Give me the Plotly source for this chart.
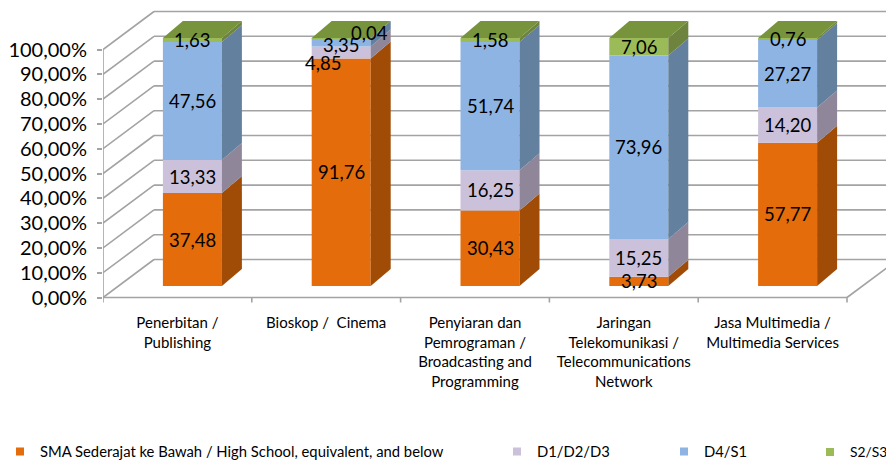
import plotly.graph_objects as go

# ---------------- data ----------------
categories = [
    "Penerbitan /<br>Publishing",
    "Bioskop /  Cinema",
    "Penyiaran dan<br>Pemrograman /<br>Broadcasting and<br>Programming",
    "Jaringan<br>Telekomunikasi /<br>Telecommunications<br>Network",
    "Jasa Multimedia /<br>Multimedia Services",
]
series_names = [
    "SMA Sederajat ke Bawah / High School, equivalent, and below",
    "D1/D2/D3",
    "D4/S1",
    "S2/S3",
]
sma = [37.48, 91.76, 30.43, 3.73, 57.77]
d1d2d3 = [13.33, 4.85, 16.25, 15.25, 14.20]
d4s1 = [47.56, 3.35, 51.74, 73.96, 27.27]
s2s3 = [1.63, 0.04, 1.58, 7.06, 0.76]
y_tick_values = [0, 10, 20, 30, 40, 50, 60, 70, 80, 90, 100]
y_tick_labels = ["0,00%", "10,00%", "20,00%", "30,00%", "40,00%", "50,00%",
                 "60,00%", "70,00%", "80,00%", "90,00%", "100,00%"]

series = [sma, d1d2d3, d4s1, s2s3]

# ---------------- style ----------------
FONT = "Lato"
FRONT = ["#E46C0A", "#CCC1DA", "#8EB4E3", "#9BBB59"]
SIDE = ["#A04C07", "#8F8799", "#63809F", "#6D833E"]
TOP_COLOR = "#77933C"
GRID = "#A3A3A3"

W, H = 894, 462
PAGE = 8                  # default page margin around the figure div
AXIS_PX = 103             # page x of the front vertical axis
PX_X = 148.8              # px per category unit
PX_Y = 2.48               # px per percent
Y0_PX = 297.5             # page row of 0 %
PLOT_BOTTOM_PX = 306      # page row of the plot area bottom

ML = AXIS_PX - PAGE
MB = H - (PLOT_BOTTOM_PX - PAGE)
plot_w = W - ML
plot_h = H - MB
X_MAX = plot_w / PX_X
Y_TOP = (Y0_PX - PAGE) / PX_Y
Y_BOT = -(PLOT_BOTTOM_PX - Y0_PX) / PX_Y

WALL_DX, WALL_DY = 51 / PX_X, 38 / PX_Y       # depth of the chart box
BAR_OX, BAR_OY = 15 / PX_X, 11.5 / PX_Y       # bar front plane offset
BAR_DX, BAR_DY = 20 / PX_X, 17 / PX_Y         # bar depth
BAR_W = 59 / PX_X

fig = go.Figure()

n = len(categories)
xc = [i + 0.5 + BAR_OX for i in range(n)]

# cumulative bases
bases = []
cum = [BAR_OY] * n
for s in series:
    bases.append(list(cum))
    cum = [c + v for c, v in zip(cum, s)]
tops = cum

# front faces: real bar traces
for k, s in enumerate(series):
    fig.add_trace(go.Bar(
        x=xc, y=s, base=bases[k], width=BAR_W,
        marker=dict(color=FRONT[k], line=dict(width=0)),
        name=series_names[k], showlegend=False, hoverinfo="skip",
    ))

# side faces and top faces
for i in range(n):
    xr = xc[i] + BAR_W / 2
    xl = xc[i] - BAR_W / 2
    for k, s in enumerate(series):
        b = bases[k][i]
        t = b + s[i]
        fig.add_trace(go.Scatter(
            x=[xr, xr, xr + BAR_DX, xr + BAR_DX, xr],
            y=[b, t, t + BAR_DY, b + BAR_DY, b],
            mode="lines", fill="toself", fillcolor=SIDE[k],
            line=dict(width=0, color=SIDE[k]), showlegend=False, hoverinfo="skip",
        ))
    T = tops[i]
    fig.add_trace(go.Scatter(
        x=[xl, xr, xr + BAR_DX, xl + BAR_DX, xl],
        y=[T, T, T + BAR_DY, T + BAR_DY, T],
        mode="lines", fill="toself", fillcolor=TOP_COLOR,
        line=dict(width=0, color=TOP_COLOR), showlegend=False, hoverinfo="skip",
    ))

# legend entries (one legend per item)
legend_left_page = [0, 497, 664, 810]
legend_font_size = [14.8, 14.8, 14.8, 13.8]
for k in range(4):
    fig.add_trace(go.Scatter(
        x=[None], y=[None], mode="markers",
        marker=dict(symbol="square", size=8, color=FRONT[k]),
        name=series_names[k], legend="legend" if k == 0 else f"legend{k+1}",
        showlegend=True,
    ))

# gridlines / walls
shapes = []
gl = dict(color=GRID, width=1.6)
for v in y_tick_values:
    shapes.append(dict(type="line", xref="x", yref="y", x0=0, y0=v,
                       x1=WALL_DX, y1=v + WALL_DY, line=gl, layer="below"))
    shapes.append(dict(type="line", xref="x", yref="y", x0=WALL_DX, y0=v + WALL_DY,
                       x1=n + WALL_DX, y1=v + WALL_DY, line=gl, layer="below"))
shapes.append(dict(type="line", xref="x", yref="y", x0=0, y0=0, x1=0, y1=100,
                   line=gl, layer="below"))
shapes.append(dict(type="line", xref="x", yref="y", x0=0, y0=0, x1=n, y1=0,
                   line=gl, layer="below"))
shapes.append(dict(type="line", xref="x", yref="y", x0=n, y0=0, x1=n + WALL_DX, y1=WALL_DY,
                   line=gl, layer="below"))
for i in range(n + 1):
    shapes.append(dict(type="line", xref="x", yref="y", x0=i, y0=0, x1=i, y1=-5 / PX_Y,
                       line=gl, layer="below"))

# data labels
label_shift = {
    (1, 1): (-18, -11),
    (1, 2): (0, -3),
    (1, 3): (28, 5),
}
annotations = []
for i in range(n):
    for k, s in enumerate(series):
        b = bases[k][i]
        mid = b + s[i] / 2
        dx, dy = label_shift.get((i, k), (0, 0))
        annotations.append(dict(
            x=xc[i], y=mid, xref="x", yref="y", showarrow=False,
            text=f"{s[i]:.2f}".replace(".", ","),
            font=dict(family=FONT, size=18.5, color="#000000"),
            xshift=dx, yshift=dy,
        ))

fig.update_layout(
    width=W, height=H, autosize=False,
    margin=dict(l=ML, r=0, t=0, b=MB, autoexpand=False),
    paper_bgcolor="white", plot_bgcolor="white",
    barmode="overlay",
    shapes=shapes, annotations=annotations,
    font=dict(family=FONT, color="#000000"),
    xaxis=dict(range=[0, X_MAX], showgrid=False, zeroline=False, showline=False,
               tickmode="array", tickvals=[i + 0.5 for i in range(n)], ticktext=categories,
               ticks="", tickfont=dict(family=FONT, size=15, color="#000000"),
               ticklabelstandoff=6, fixedrange=True),
    yaxis=dict(range=[Y_BOT, Y_TOP], showgrid=False, zeroline=False, showline=False,
               tickmode="array", tickvals=y_tick_values, ticktext=y_tick_labels,
               ticks="outside", ticklen=5, tickcolor=GRID, tickwidth=1.6,
               tickfont=dict(family=FONT, size=20, color="#000000"),
               ticklabelstandoff=6, fixedrange=True),
    showlegend=True,
)

leg_y = ((plot_h) - (452 - PAGE)) / plot_h
for k in range(4):
    key = "legend" if k == 0 else f"legend{k+1}"
    fig.update_layout({key: dict(
        x=(legend_left_page[k] - AXIS_PX) / plot_w, xanchor="left",
        y=leg_y, yanchor="middle", orientation="h",
        bgcolor="rgba(0,0,0,0)", borderwidth=0,
        font=dict(family=FONT, size=legend_font_size[k], color="#000000"),
    )})

fig.write_html("out.html")
